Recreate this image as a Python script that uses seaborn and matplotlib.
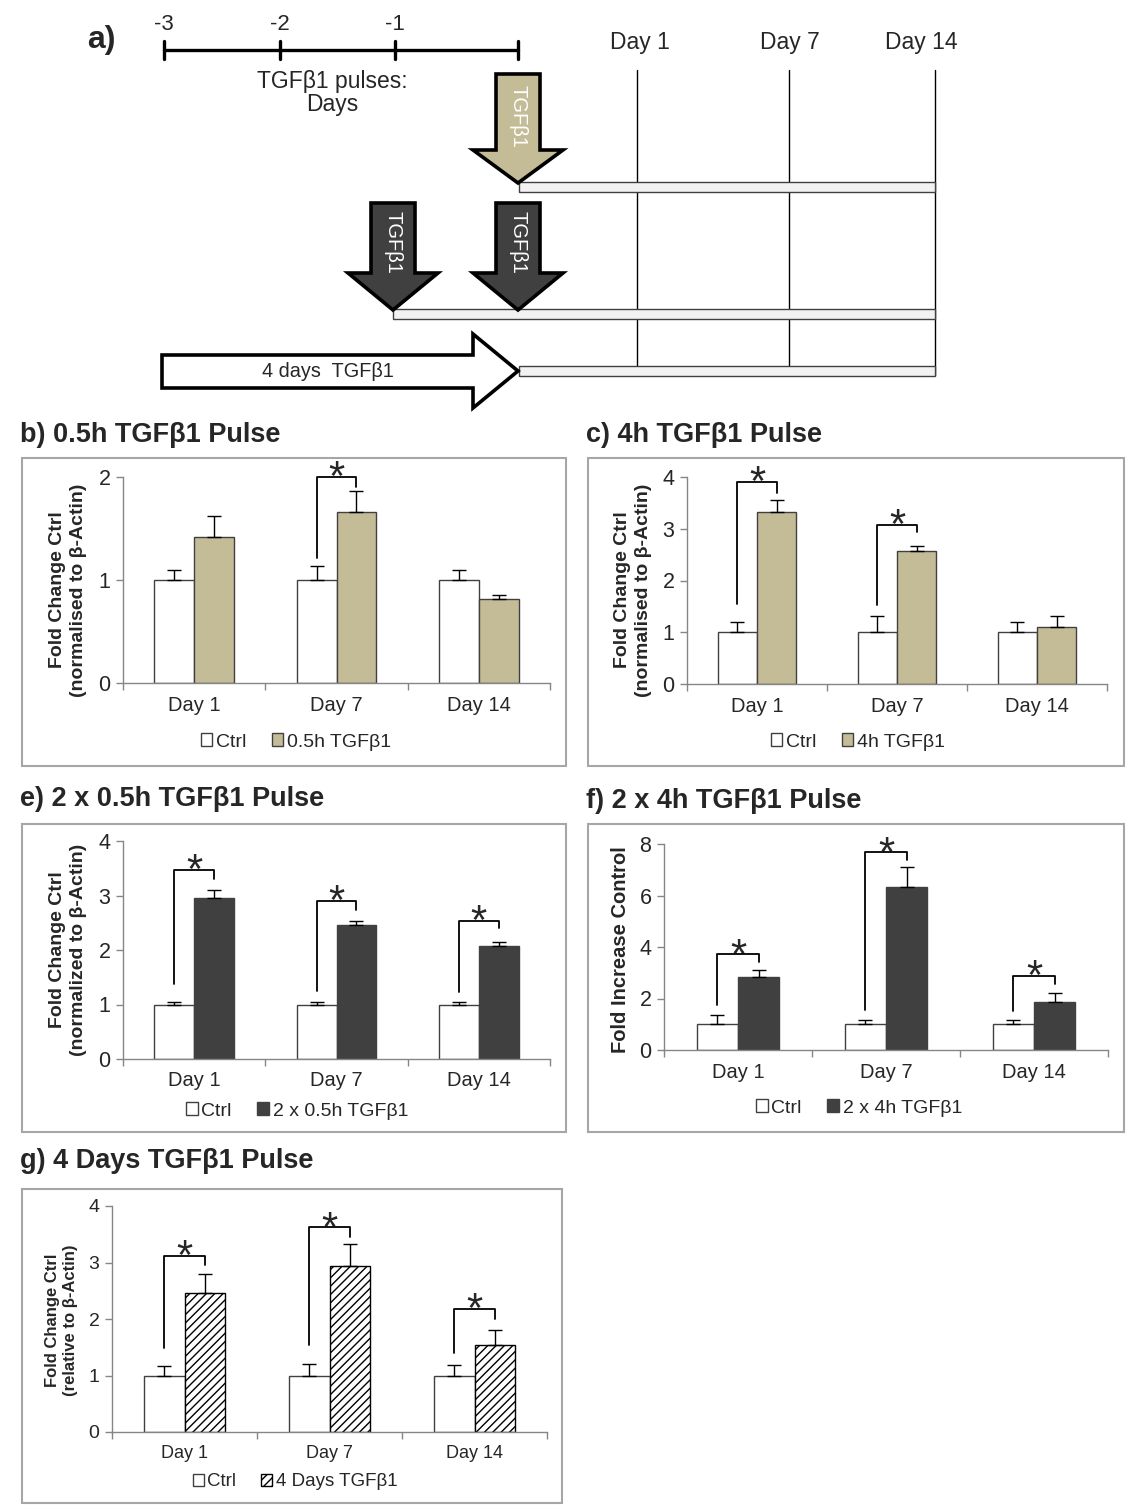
import numpy as np
import pandas as pd
import matplotlib
matplotlib.use('Agg')
import matplotlib.pyplot as plt
from matplotlib.patches import Polygon, Rectangle, Patch
import seaborn as sns

W, H = 1127, 1506

days = ['Day 1', 'Day 7', 'Day 14']
pulse_days = ['-3', '-2', '-1']

# b) 0.5h TGFb1 pulse
b_ctrl = [1.0, 1.0, 1.0]
b_ctrl_err = [0.10, 0.14, 0.10]
b_trt = [1.42, 1.66, 0.82]
b_trt_err = [0.20, 0.20, 0.03]
b_sig = [None, (1.21, 2.0, 1.90), None]

# c) 4h TGFb1 pulse
c_ctrl = [1.0, 1.0, 1.0]
c_ctrl_err = [0.20, 0.32, 0.20]
c_trt = [3.32, 2.57, 1.10]
c_trt_err = [0.24, 0.10, 0.21]
c_sig = [(1.55, 3.91, 3.70), (1.53, 3.07, 2.93), None]

# e) 2 x 0.5h TGFb1 pulse
e_ctrl = [1.0, 1.0, 1.0]
e_ctrl_err = [0.05, 0.05, 0.05]
e_trt = [2.96, 2.45, 2.08]
e_trt_err = [0.14, 0.08, 0.06]
e_sig = [(1.38, 3.47, 3.30), (1.24, 2.90, 2.74), (1.23, 2.54, 2.41)]

# f) 2 x 4h TGFb1 pulse
f_ctrl = [1.0, 1.0, 1.0]
f_ctrl_err = [0.35, 0.18, 0.18]
f_trt = [2.82, 6.32, 1.88]
f_trt_err = [0.28, 0.78, 0.33]
f_sig = [(1.73, 3.71, 3.41), (1.57, 7.67, 7.37), (1.50, 2.88, 2.57)]

# g) 4 days TGFb1
g_ctrl = [1.0, 1.0, 1.0]
g_ctrl_err = [0.17, 0.21, 0.19]
g_trt = [2.46, 2.93, 1.54]
g_trt_err = [0.34, 0.40, 0.26]
g_sig = [(1.48, 3.11, 2.95), (1.54, 3.62, 3.46), (1.40, 2.18, 2.00)]

TAN = '#C4BC96'
DARK = '#404040'
EDGE = '#404040'
AXC = '#868686'
BOX = '#A6A6A6'

sns.set_style('white')
plt.rcParams['font.family'] = ['Liberation Sans', 'DejaVu Sans']

fig = plt.figure(figsize=(W / 100, H / 100), dpi=100)

# overlay axes in pixel coordinates for the schematic and panel frames
ov = fig.add_axes([0, 0, 1, 1])
ov.set_xlim(0, W)
ov.set_ylim(H, 0)
ov.axis('off')


def px(left, top, right, bottom):
    return [left / W, 1 - bottom / H, (right - left) / W, (bottom - top) / H]


# ---- panel a: schematic ----
fig.text(87 / W, 1 - 40 / H, 'a)', fontsize=23, fontweight='bold', va='center')
tick_x = [164, 280, 395, 518]
ov.plot([tick_x[0], tick_x[-1]], [50, 50], color='black', lw=2.4)
for x in tick_x:
    ov.plot([x, x], [41, 59], color='black', lw=2.4)
for x, t in zip(tick_x, pulse_days):
    ov.text(x, 24, t, ha='center', va='center', fontsize=16)
ov.text(332, 93, 'TGFβ1 pulses:\nDays', ha='center', va='center', fontsize=16.5, linespacing=1.05)

day_x = [637, 789, 935]
for x, lab, lx in zip(day_x, days, [640, 790, 921]):
    ov.text(lx, 42, lab, ha='center', va='center', fontsize=16.5)
    ov.plot([x, x], [70, 375], color='black', lw=1)

for x0, y0 in [(519, 182), (393, 309), (519, 366)]:
    ov.add_patch(Rectangle((x0, y0), 935 - x0, 9.5, facecolor='#F2F2F2', edgecolor='#404040', lw=1, zorder=3))


def down_arrow(cx, top, neck, tip, color):
    pts = [(cx - 22, top), (cx + 22, top), (cx + 22, neck), (cx + 45, neck), (cx, tip),
           (cx - 45, neck), (cx - 22, neck)]
    ov.add_patch(Polygon(pts, closed=True, facecolor=color, edgecolor='black', lw=2.6,
                         joinstyle='miter', zorder=4))
    ov.text(cx, (top + neck) / 2 + 4, 'TGFβ1', rotation=-90, color='white', ha='center',
            va='center', fontsize=14.5, zorder=5)


down_arrow(518, 74, 150, 183, TAN)
down_arrow(393, 203, 273, 310, DARK)
down_arrow(518, 203, 273, 310, DARK)

pts = [(162, 355), (473, 355), (473, 334), (518, 371), (473, 408), (473, 388), (162, 388)]
ov.add_patch(Polygon(pts, closed=True, facecolor='white', edgecolor='black', lw=2.6,
                     joinstyle='miter', zorder=4))
ov.text(328, 371, '4 days  TGFβ1', ha='center', va='center', fontsize=14.3, zorder=5)


# ---- bar panels ----
def bar_panel(rect, box, title, title_xy, ctrl, ctrl_err, trt, trt_err, sig, label, color,
              ymax, ystep, ylabel, ylabel_xy, legend_xy, hatch=None, fs=14.5, yfs=14,
              lfs=14, star=30):
    ov.add_patch(Rectangle((box[0], box[1]), box[2] - box[0], box[3] - box[1],
                           facecolor='none', edgecolor=BOX, lw=1.5))
    fig.text(title_xy[0] / W, 1 - title_xy[1] / H, title, fontsize=19.5, fontweight='bold',
             va='center')

    ax = fig.add_axes(px(*rect))
    ax.set_facecolor('none')
    df = pd.DataFrame({'Day': days * 2,
                       'Group': ['Ctrl'] * 3 + [label] * 3,
                       'Value': ctrl + trt})
    sns.barplot(data=df, x='Day', y='Value', hue='Group', palette=['white', color],
                saturation=1, edgecolor=EDGE, linewidth=1, width=0.56, errorbar=None,
                legend=False, ax=ax)
    if hatch:
        for bar in ax.containers[1]:
            bar.set_hatch(hatch)
            bar.set_edgecolor('black')
    centers = []
    for cont, err in zip(ax.containers, [ctrl_err, trt_err]):
        xs = [b.get_x() + b.get_width() / 2 for b in cont]
        hs = [b.get_height() for b in cont]
        centers.append(xs)
        ax.errorbar(xs, hs, yerr=[np.zeros(len(err)), err], fmt='none', ecolor='black',
                    elinewidth=1, capsize=5, capthick=1, zorder=4)
    for i, s in enumerate(sig):
        if s is None:
            continue
        low, top, drop = s
        x0, x1 = centers[0][i], centers[1][i]
        ax.plot([x0, x0, x1, x1], [low, top, top, drop], color='black', lw=1.3,
                clip_on=False, zorder=5)
        ax.annotate('*', ((x0 + x1) / 2, top), xytext=(0, -9.5), textcoords='offset points',
                    ha='center', va='baseline', fontsize=star, annotation_clip=False)

    ax.set_xlim(-0.5, 2.5)
    ax.set_ylim(0, ymax)
    ax.set_yticks(np.arange(0, ymax + 0.01, ystep))
    ax.set_yticklabels([f'{v:g}' for v in np.arange(0, ymax + 0.01, ystep)])
    ax.set_xticks([-0.5, 0.5, 1.5, 2.5], minor=True)
    ax.set_xlabel('')
    ax.set_ylabel('')
    for sp in ['top', 'right']:
        ax.spines[sp].set_visible(False)
    for sp in ['left', 'bottom']:
        ax.spines[sp].set_color(AXC)
        ax.spines[sp].set_linewidth(1)
    ax.tick_params(axis='y', left=True, length=5, width=1, color=AXC, labelsize=fs + 1, pad=4)
    ax.tick_params(axis='x', which='major', length=0, labelsize=fs, pad=9)
    ax.tick_params(axis='x', which='minor', bottom=True, length=5, width=1, color=AXC)

    fig.text(ylabel_xy[0] / W, 1 - ylabel_xy[1] / H, ylabel, rotation=90, ha='center',
             va='center', fontsize=yfs, fontweight='bold', linespacing=1.25)

    handles = [Patch(facecolor='white', edgecolor=EDGE, lw=1, label='Ctrl'),
               Patch(facecolor='white' if hatch else color, edgecolor='black' if hatch else EDGE,
                     hatch=hatch, lw=1, label=label)]
    fig.legend(handles=handles, loc='center', ncol=2, frameon=False, fontsize=lfs,
               bbox_to_anchor=(legend_xy[0] / W, 1 - legend_xy[1] / H),
               handlelength=0.6, handleheight=0.6, handletextpad=0.2, columnspacing=1.3)
    return ax


ylab_norm_s = 'Fold Change Ctrl\n(normalised to β-Actin)'
ylab_norm_z = 'Fold Change Ctrl\n(normalized to β-Actin)'

bar_panel((123, 477, 550, 683), (22, 458, 566, 766), 'b) 0.5h TGFβ1 Pulse', (20, 435),
          b_ctrl, b_ctrl_err, b_trt, b_trt_err, b_sig, '0.5h TGFβ1', TAN,
          2, 1, ylab_norm_s, (68, 590), (296, 742))

bar_panel((687, 477, 1107, 684), (588, 458, 1124, 766), 'c) 4h TGFβ1 Pulse', (586, 435),
          c_ctrl, c_ctrl_err, c_trt, c_trt_err, c_sig, '4h TGFβ1', TAN,
          4, 1, ylab_norm_s, (633, 590), (858, 742))

bar_panel((123, 841, 550, 1059), (22, 824, 566, 1132), 'e) 2 x 0.5h TGFβ1 Pulse', (20, 799),
          e_ctrl, e_ctrl_err, e_trt, e_trt_err, e_sig, '2 x 0.5h TGFβ1', DARK,
          4, 1, ylab_norm_z, (68, 950), (297, 1111))

bar_panel((664, 844, 1108, 1050), (588, 824, 1124, 1132), 'f) 2 x 4h TGFβ1 Pulse', (586, 801),
          f_ctrl, f_ctrl_err, f_trt, f_trt_err, f_sig, '2 x 4h TGFβ1', DARK,
          8, 2, 'Fold Increase Control', (621, 950), (859, 1108), yfs=14.5)

bar_panel((112, 1206, 547, 1432), (22, 1189, 562, 1503), 'g) 4 Days TGFβ1 Pulse', (20, 1161),
          g_ctrl, g_ctrl_err, g_trt, g_trt_err, g_sig, '4 Days TGFβ1', 'white',
          4, 1, 'Fold Change Ctrl\n(relative to β-Actin)', (61, 1320), (295, 1482),
          hatch='////', fs=13, yfs=12, lfs=13.5)

fig.savefig('out.png', dpi=100)
